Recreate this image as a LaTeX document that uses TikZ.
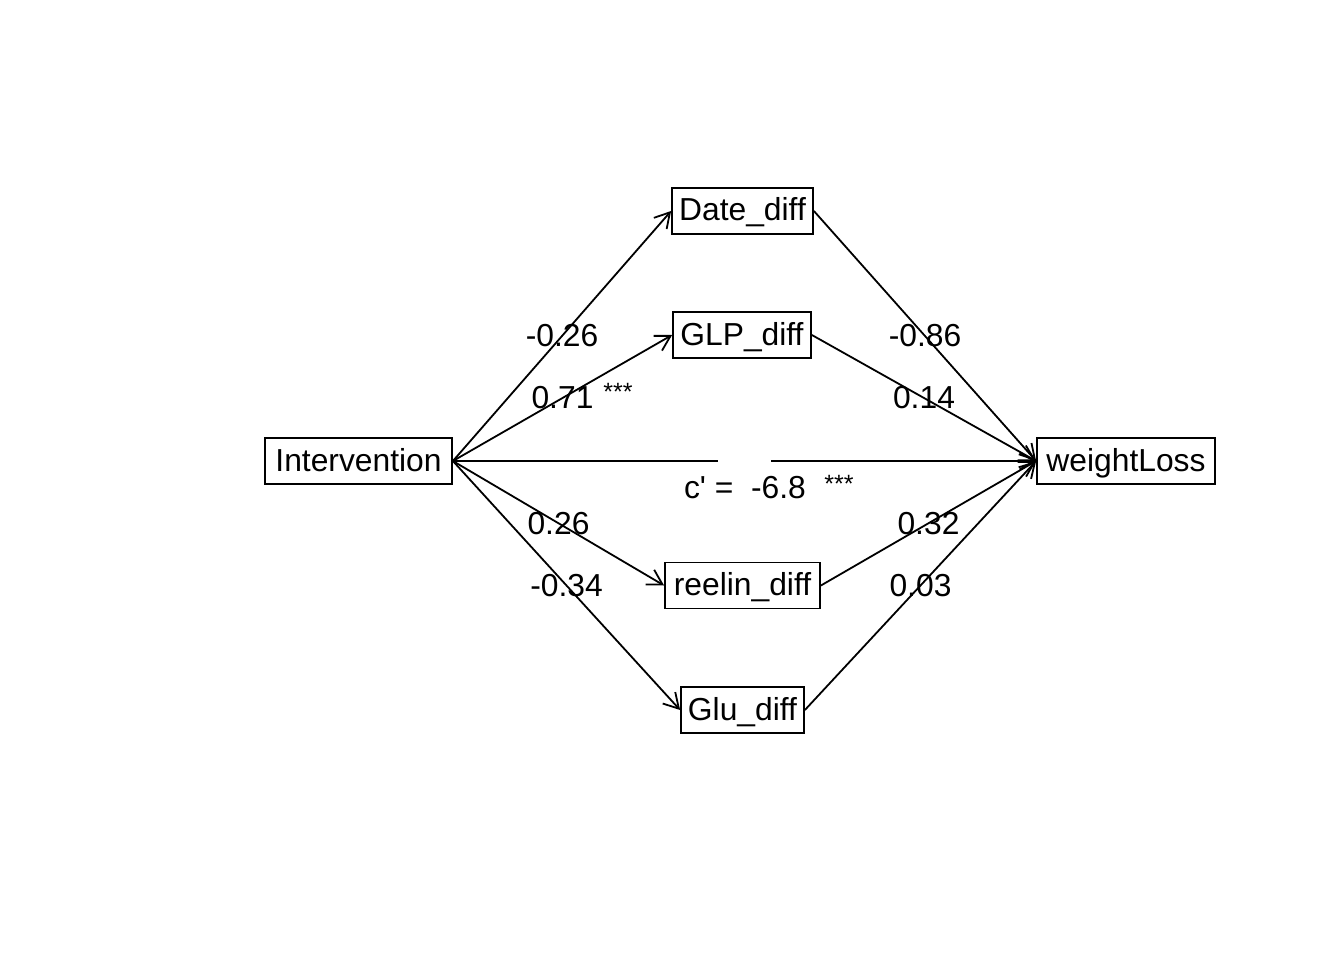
\documentclass[tikz,border=0pt]{standalone}
\usepackage{fontspec}
\setmainfont{Liberation Sans}[Ligatures=TeXOff]
\usetikzlibrary{arrows.meta}
\begin{document}
\begin{tikzpicture}[x=1pt,y=-1pt,
  var/.style={draw,line width=1.8pt,inner sep=0pt,minimum height=46pt,text height=22pt,text depth=2pt,font=\fontsize{31.8}{37}\selectfont},
  path/.style={line width=1.8pt,-{Straight Barb[angle=60:17pt,line width=1.8pt]}},
  plain/.style={line width=1.8pt},
  lab/.style={inner sep=0pt,font=\fontsize{31.8}{37}\selectfont},
  star/.style={inner sep=0pt,font=\fontsize{25}{28}\selectfont}]
\useasboundingbox (0,0) rectangle (1344,960);
\node[var,minimum width=187pt] (X) at (358.5,461) {Intervention};
\node[var,minimum width=141pt] (M1) at (742.5,211) {Date\_diff};
\node[var,minimum width=138pt] (M2) at (742,335) {GLP\_diff};
\node[var,minimum width=155pt] (M3) at (742.5,585.5) {reelin\_diff};
\node[var,minimum width=123pt] (M4) at (742.5,710) {Glu\_diff};
\node[var,minimum width=178pt] (Y) at (1126,461) {weightLoss};
\coordinate (gapL) at (718,461);
\coordinate (gapR) at (771,461);
\draw[path] (X.east) -- node[lab] {-0.26} (M1.west);
\draw[path] (X.east) -- node[lab] {0.71} (M2.west);
\draw[path] (X.east) -- node[lab] {0.26} (M3.west);
\draw[path] (X.east) -- node[lab] {-0.34} (M4.west);
\draw[path] (M1.east) -- node[lab] {-0.86} (Y.west);
\draw[path] (M2.east) -- node[lab] {0.14} (Y.west);
\draw[path] (M3.east) -- node[lab] {0.32} (Y.west);
\draw[path] (M4.east) -- node[lab] {0.03} (Y.west);
\draw[plain] (X.east) -- (gapL);
\draw[path] (gapR) -- (Y.west);
\node[star] (s1) at (618,392) {***};
\node[lab] (c) at (745,488) {c' =\ \ -6.8};
\node[star] (s2) at (839,484) {***};
\end{tikzpicture}
\end{document}
